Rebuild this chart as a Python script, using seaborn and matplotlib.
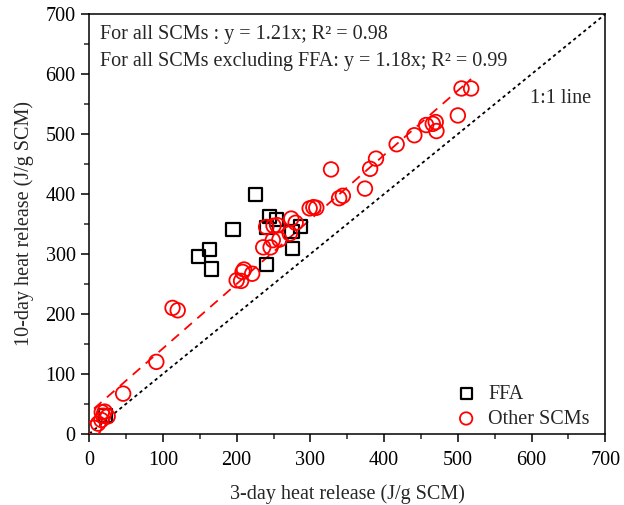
import numpy as np
import pandas as pd
import matplotlib
matplotlib.use("Agg")
import matplotlib.pyplot as plt
from matplotlib.ticker import MultipleLocator
import seaborn as sns

# 3-day vs 10-day cumulative heat release (J/g SCM)
ffa_3d = [225, 195, 163, 148, 166, 245, 254, 240, 287, 275, 276, 240, 22]
ffa_10d = [399, 341, 307, 296, 275, 362, 358, 344, 346, 337, 309, 283, 31]

other_3d = [6.5, 12, 16.5, 19, 25, 21, 17, 46, 91, 113, 120,
            200, 206, 208, 210, 221, 236, 246, 240, 255, 258, 249, 272, 274, 280, 250,
            299, 304, 308, 328, 339, 344, 374, 381, 389, 417, 441, 457, 466, 470, 471,
            500, 505, 518]
other_10d = [10, 17, 23, 30, 29, 37, 36, 67, 120, 210, 206,
             256, 255, 270, 274, 267, 311, 311, 345, 348, 324, 323, 334, 359, 352, 347,
             376, 378, 377, 441, 393, 397, 409, 442, 459, 483, 498, 515, 517, 520, 505,
             531, 576, 576]

# dashed trend line through the "Other SCMs" group
fit_slope = 1.075
fit_intercept = 35.0

eq_all = "For all SCMs : y = 1.21x; R\u00b2 = 0.98"
eq_excl = "For all SCMs excluding FFA: y = 1.18x; R\u00b2 = 0.99"

FS = 14.5

sns.set_style("ticks")
plt.rcParams["font.family"] = ["Liberation Serif", "DejaVu Serif"]

fig = plt.figure(figsize=(6.24, 5.05), dpi=100)
ax = fig.add_axes([0.143, 0.141, 0.827, 0.831])

ffa = pd.DataFrame({"d3": ffa_3d, "d10": ffa_10d})
oth = pd.DataFrame({"d3": other_3d, "d10": other_10d})

# 1:1 reference line
lim = np.array([0, 700])
ax.plot(lim, lim, color="black", lw=1.3, linestyle=(0, (1.8, 1.8)), zorder=1)

# trend line
xf = np.array([min(other_3d), max(other_3d)])
ax.plot(xf, fit_intercept + fit_slope * xf, color="red", lw=1.3,
        linestyle=(0, (5.5, 4.0)), zorder=1)

sns.scatterplot(data=ffa, x="d3", y="d10", ax=ax, marker="s", s=90,
                facecolor="none", edgecolor="black", linewidth=1.6,
                label="FFA", zorder=2)
sns.scatterplot(data=oth, x="d3", y="d10", ax=ax, marker="o", s=110,
                facecolor="none", edgecolor="red", linewidth=1.3,
                label="Other SCMs", zorder=3)

ax.set_xlim(0, 700)
ax.set_ylim(0, 700)
ax.xaxis.set_major_locator(MultipleLocator(100))
ax.yaxis.set_major_locator(MultipleLocator(100))
ax.xaxis.set_minor_locator(MultipleLocator(50))
ax.yaxis.set_minor_locator(MultipleLocator(50))
ax.tick_params(which="major", direction="out", length=5.8, width=1.1,
               labelsize=FS, colors="black")
ax.tick_params(which="minor", direction="out", length=3.6, width=1.1)
ax.tick_params(axis="x", which="major", pad=6.5)
ax.tick_params(axis="y", which="major", pad=4)
for sp in ax.spines.values():
    sp.set_visible(True)
    sp.set_linewidth(1.1)
    sp.set_color("black")

ax.set_xlabel("3-day heat release (J/g SCM)", fontsize=FS, labelpad=10)
ax.set_ylabel("10-day heat release (J/g SCM)", fontsize=FS, labelpad=8)

ax.text(0.021, 0.951, eq_all, transform=ax.transAxes, fontsize=FS,
        va="center", ha="left")
ax.text(0.021, 0.888, eq_excl, transform=ax.transAxes, fontsize=FS,
        va="center", ha="left")
ax.text(598, 560, "1:1 line", fontsize=FS, va="center", ha="left")

leg = ax.legend(loc="lower right", frameon=False, fontsize=FS,
                handlelength=1.2, handletextpad=0.5, borderaxespad=0,
                borderpad=0, labelspacing=0.3, markerscale=0.85,
                bbox_to_anchor=(0.97, 0.012))

fig.savefig("out.png", dpi=100, facecolor="white")
